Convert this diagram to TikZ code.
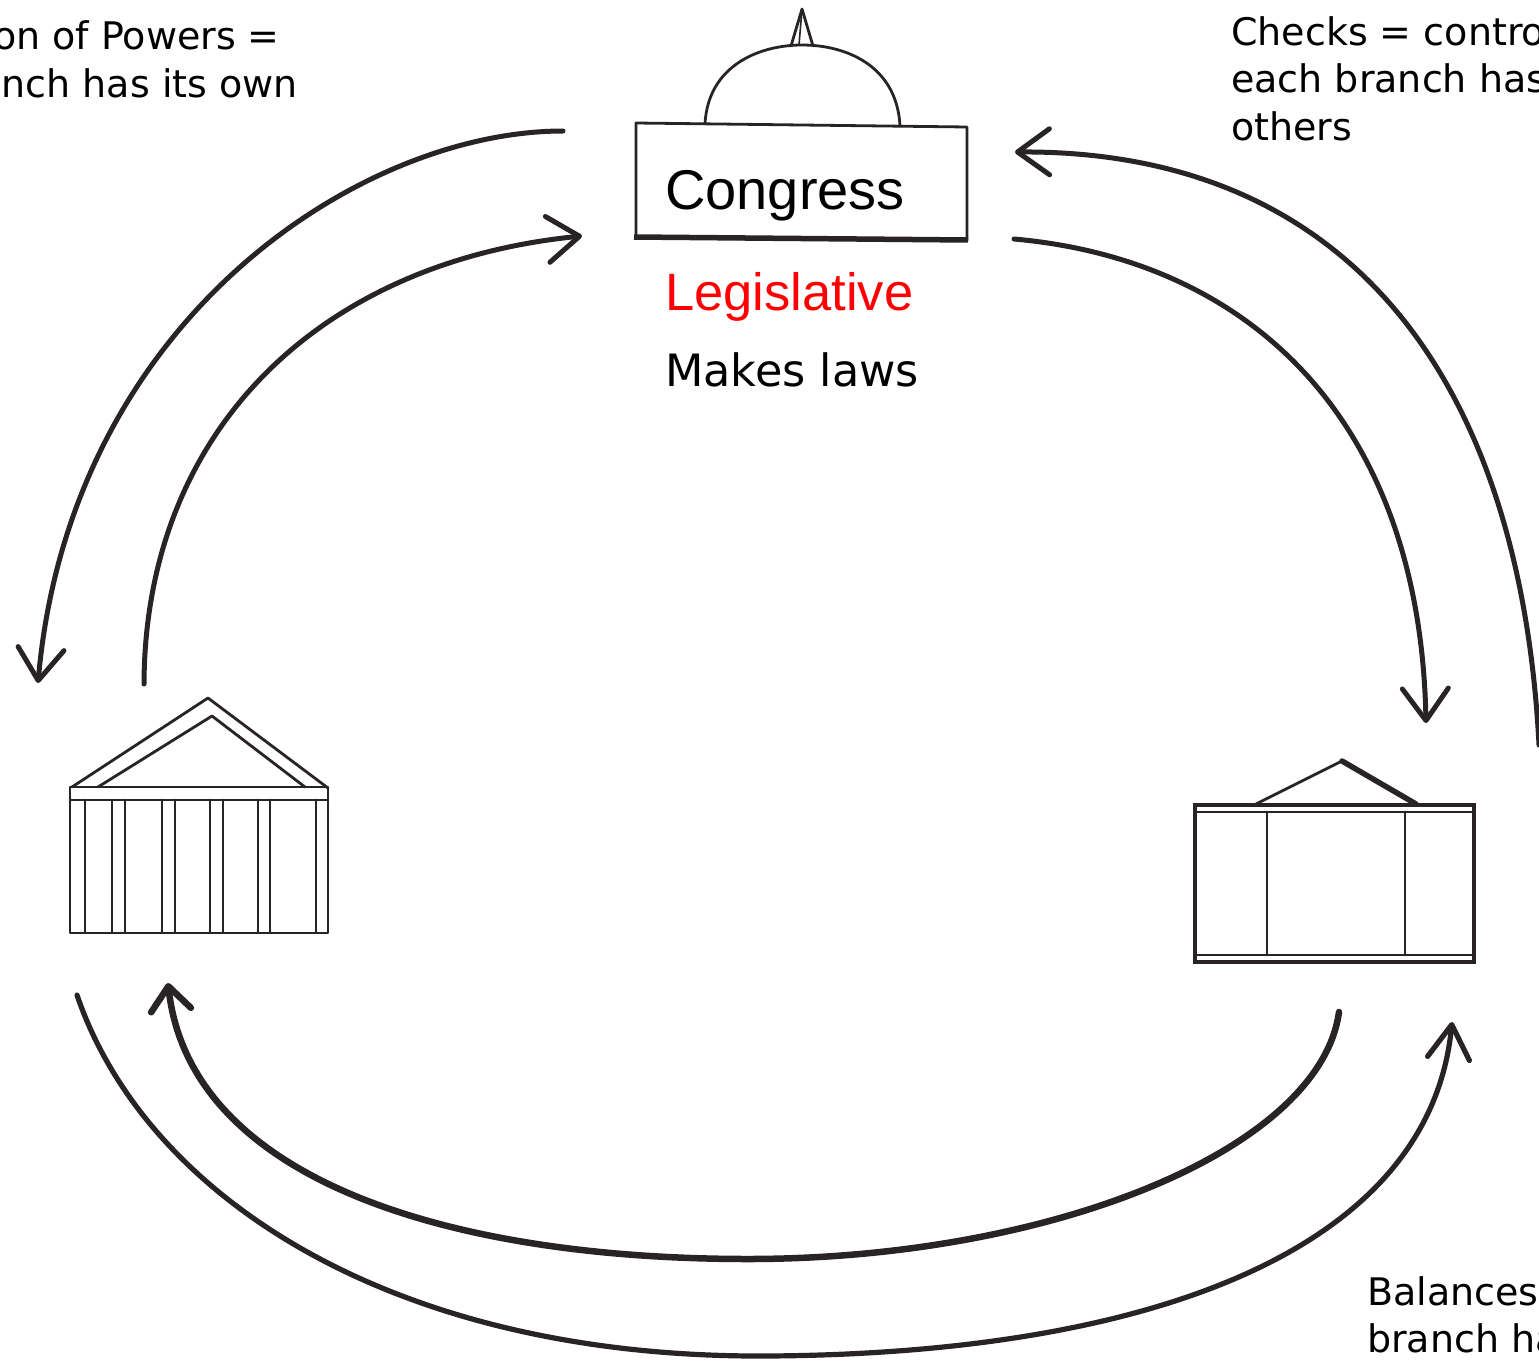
\documentclass[tikz,border=0pt]{standalone}
\usepackage{fontspec}
\setmainfont{DejaVu Sans}
\newfontfamily\arialf{Liberation Sans}
\usetikzlibrary{arrows.meta}
\definecolor{ink}{RGB}{40,35,37}
\definecolor{legred}{RGB}{255,0,0}
\begin{document}
\begin{tikzpicture}[x=1pt,y=-1pt,
  bld/.style={line width=2.8pt, draw=ink, line join=round, line cap=round},
  arr/.style={line width=5pt, draw=ink, line cap=round, line join=round,
    -{Straight Barb[length=32pt,width=46pt,round]}},
  note/.style={inner sep=0pt, font=\fontsize{38}{46}\selectfont},
  lbl/.style={inner sep=0pt, anchor=base west}]
\useasboundingbox (0,0) rectangle (1539,1370);
\clip (0,0) rectangle (1539,1370);
\fill[white] (0,0) rectangle (1539,1370);

% ---------- Congress building ----------
\draw[bld] (636,123) -- (967,127) -- (967,240) -- (636,238) -- cycle;
\draw[line width=5.5pt, draw=ink] (634,237) -- (968,240);
\draw[bld] (705,124) .. controls (708,65) and (760,45) .. (802,45)
  .. controls (848,45) and (897,67) .. (900,126);
\draw[bld] (791,46) -- (802,9) -- (813,46);
\draw[line width=1.6pt, draw=ink] (802,9) -- (799,45);

\node[lbl, font=\arialf\fontsize{56}{60}\selectfont] (congress) at (665,209) {Congress};
\node[lbl, font=\arialf\fontsize{52.5}{58}\selectfont, text=legred] (legis) at (665,310) {Legislative};
\node[lbl, font=\fontsize{44.5}{50}\selectfont] (makes) at (665,386) {Makes laws};

% ---------- left building (columns) ----------
\draw[bld] (72,787) -- (208,698) -- (328,788);
\draw[bld] (98,787) -- (212,716) -- (305,787);
\draw[bld] (70,787) rectangle (328,933);
\draw[bld] (70,800) -- (328,800);
\foreach \xx in {85,112,125,162,175,210,223,258,270,316}
  \draw[bld] (\xx,800) -- (\xx,932);

% ---------- right building ----------
\draw[line width=3.8pt, draw=ink] (1195,805) rectangle (1474,962);
\draw[bld] (1195,812) -- (1474,812);
\draw[bld] (1195,955) -- (1474,955);
\draw[bld] (1267,812) -- (1267,955);
\draw[bld] (1405,812) -- (1405,955);
\draw[bld] (1256,804) -- (1342,761);
\draw[line width=5.5pt, draw=ink, line cap=round] (1342,761) -- (1416,804);

% ---------- notes ----------
\node[note, anchor=base east] (sepA) at (280,50) {on of Powers =};
\node[note, anchor=base east] (sepB) at (298,98) {nch has its own};
\node[note, anchor=base west] (chkA) at (1231,46) {Checks = contro};
\node[note, anchor=base west] (chkB) at (1231,93) {each branch has};
\node[note, anchor=base west] (chkC) at (1231,140) {others};
\node[note, anchor=base west] (balA) at (1367,1305) {Balances};
\node[note, anchor=base west] (balB) at (1367,1352) {branch ha};

% ---------- connector ends ----------
\coordinate (cL1) at (563,131);  \coordinate (jL1) at (38,683);
\coordinate (jL2) at (144,684);  \coordinate (cL2) at (582,236);
\coordinate (xR1) at (1539,745); \coordinate (cR1) at (1015,152);
\coordinate (cR2) at (1014,239); \coordinate (xR2) at (1426,723);
\coordinate (jB1) at (77,995);   \coordinate (xB1) at (1452,1022);
\coordinate (xB2) at (1339,1012);\coordinate (jB2) at (168,983);
\coordinate (mB1) at (766,1356); \coordinate (mB2) at (748,1259);

% ---------- connectors ----------
\draw[arr] (cL1) .. controls (360,131) and (70,320) .. (jL1);
\draw[arr] (jL2) .. controls (145,430) and (320,262) .. (cL2);
\draw[arr] (xR1) .. controls (1520,380) and (1350,150) .. (cR1);
\draw[arr] (cR2) .. controls (1250,260) and (1420,420) .. (xR2);
\draw[arr, line width=5.2pt, -{Straight Barb[length=34pt,width=42pt,round]}]
  (jB1) .. controls (145,1195) and (390,1358) .. (mB1)
  .. controls (1150,1354) and (1430,1250) .. (xB1);
\draw[arr, line width=6.5pt, -{Straight Barb[length=24pt,width=40pt,round]}]
  (xB2) .. controls (1320,1150) and (1050,1259) .. (mB2)
  .. controls (450,1259) and (190,1180) .. (jB2);
\end{tikzpicture}
\end{document}
